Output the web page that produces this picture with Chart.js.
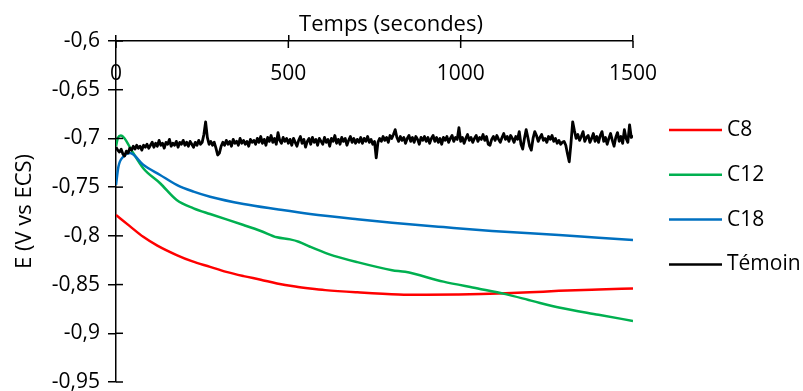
<!DOCTYPE html>
<html>
<head>
<meta charset="utf-8">
<script src="https://cdn.jsdelivr.net/npm/chart.js@4.4.1/dist/chart.umd.min.js"></script>
<style>
html,body{margin:0;padding:0;background:#fff;}
#wrap{width:803px;height:391px;}
</style>
</head>
<body>
<div id="wrap"><canvas id="c" width="803" height="391"></canvas></div>
<script>
// ---- Data ----
const seriesNames = ['C8', 'C12', 'C18', 'Témoin'];
const xAxisTitle = 'Temps (secondes)';
const yAxisTitle = 'E (V vs ECS)';
const xTickValues = [0, 500, 1000, 1500];
const yTickValues = [-0.95, -0.9, -0.85, -0.8, -0.75, -0.7, -0.65, -0.6];

const c8Time = [0, 40, 79, 120, 176, 220, 273, 320, 370, 420, 467, 520, 563, 607, 700, 820, 900, 994, 1060, 1130, 1200, 1285, 1400, 1500];
const c8E    = [-0.7786, -0.790, -0.801, -0.810, -0.8197, -0.826, -0.8318, -0.837, -0.8413, -0.845, -0.8488, -0.852, -0.854, -0.8557, -0.858, -0.8602, -0.8605, -0.8602, -0.8598, -0.859, -0.858, -0.8564, -0.855, -0.854];

const c12Time = [0, 6, 14, 25, 45, 79, 128, 176, 225, 273, 370, 420, 467, 505, 530, 563, 617, 700, 801, 839, 950, 1050, 1130, 1210, 1285, 1400, 1500];
const c12E    = [-0.708, -0.699, -0.697, -0.700, -0.712, -0.7306, -0.746, -0.7632, -0.7717, -0.7776, -0.7889, -0.795, -0.8015, -0.8036, -0.806, -0.8112, -0.8187, -0.827, -0.8352, -0.8369, -0.847, -0.854, -0.8598, -0.867, -0.8735, -0.881, -0.8873];

const c18Time = [0, 7, 21, 41, 79, 128, 176, 225, 273, 370, 467, 563, 700, 801, 950, 1091, 1285, 1400, 1500];
const c18E    = [-0.7477, -0.729, -0.7187, -0.715, -0.727, -0.7375, -0.7477, -0.7546, -0.7598, -0.7673, -0.7727, -0.7776, -0.7830, -0.7865, -0.791, -0.795, -0.7992, -0.802, -0.8043];

// Témoin sampled every 5 s from 0 to 1500 s (20 values per 100 s row)
const temoinStep = 5;
const temoinE = [
  -0.709, -0.712, -0.714, -0.711, -0.716, -0.718, -0.713, -0.715, -0.710, -0.712, -0.708, -0.711, -0.707, -0.710, -0.708, -0.712, -0.707, -0.709, -0.706, -0.710,
  -0.707, -0.704, -0.709, -0.705, -0.708, -0.702, -0.707, -0.705, -0.710, -0.704, -0.706, -0.701, -0.708, -0.705, -0.707, -0.703, -0.709, -0.704, -0.706, -0.702,
  -0.707, -0.704, -0.708, -0.703, -0.706, -0.709, -0.704, -0.707, -0.702, -0.706, -0.704, -0.696, -0.683, -0.699, -0.706, -0.703, -0.707, -0.704, -0.710, -0.717,
  -0.715, -0.708, -0.704, -0.707, -0.702, -0.706, -0.703, -0.708, -0.701, -0.705, -0.703, -0.707, -0.700, -0.705, -0.702, -0.706, -0.703, -0.708, -0.701, -0.704,
  -0.702, -0.706, -0.700, -0.704, -0.698, -0.705, -0.701, -0.707, -0.699, -0.703, -0.697, -0.704, -0.700, -0.706, -0.694, -0.702, -0.705, -0.699, -0.703, -0.700,
  -0.705, -0.701, -0.707, -0.700, -0.704, -0.708, -0.702, -0.698, -0.705, -0.701, -0.709, -0.703, -0.700, -0.706, -0.699, -0.704, -0.701, -0.707, -0.700, -0.703,
  -0.706, -0.699, -0.704, -0.701, -0.708, -0.700, -0.703, -0.697, -0.705, -0.701, -0.706, -0.699, -0.703, -0.700, -0.707, -0.702, -0.698, -0.704, -0.700, -0.705,
  -0.701, -0.704, -0.699, -0.705, -0.700, -0.703, -0.698, -0.704, -0.701, -0.706, -0.703, -0.720, -0.704, -0.700, -0.703, -0.698, -0.702, -0.699, -0.704, -0.697,
  -0.700, -0.696, -0.691, -0.699, -0.703, -0.698, -0.702, -0.699, -0.705, -0.700, -0.697, -0.703, -0.699, -0.704, -0.698, -0.701, -0.706, -0.699, -0.702, -0.698,
  -0.703, -0.699, -0.705, -0.700, -0.697, -0.703, -0.699, -0.704, -0.700, -0.706, -0.699, -0.702, -0.698, -0.704, -0.700, -0.697, -0.703, -0.699, -0.701, -0.689,
  -0.703, -0.699, -0.705, -0.700, -0.696, -0.702, -0.699, -0.704, -0.700, -0.697, -0.703, -0.699, -0.701, -0.696, -0.702, -0.698, -0.706, -0.707, -0.701, -0.698,
  -0.702, -0.697, -0.701, -0.704, -0.699, -0.695, -0.701, -0.698, -0.703, -0.697, -0.700, -0.704, -0.698, -0.701, -0.693, -0.706, -0.711, -0.700, -0.691, -0.699,
  -0.708, -0.712, -0.700, -0.693, -0.697, -0.703, -0.699, -0.696, -0.702, -0.700, -0.704, -0.698, -0.701, -0.697, -0.703, -0.700, -0.705, -0.702, -0.706, -0.704,
  -0.703, -0.707, -0.716, -0.724, -0.705, -0.683, -0.692, -0.700, -0.696, -0.702, -0.698, -0.693, -0.703, -0.699, -0.697, -0.704, -0.700, -0.695, -0.703, -0.698,
  -0.704, -0.697, -0.693, -0.703, -0.699, -0.706, -0.700, -0.695, -0.702, -0.708, -0.699, -0.694, -0.703, -0.698, -0.705, -0.691, -0.700, -0.704, -0.686, -0.699,
  -0.697
];

const colors = ['#FF0000', '#00B050', '#0070C0', '#000000'];

// ---- Build datasets ----
const toPoints = (xs, ys) => ys.map((y, i) => ({x: xs[i], y: y}));
const temoinTime = temoinE.map((_, i) => i * temoinStep);

const FONT = '"Open Sans", Lato, sans-serif';

const datasets = [
  {label: seriesNames[0], data: toPoints(c8Time, c8E), borderColor: colors[0], order: 4, cubicInterpolationMode: 'monotone'},
  {label: seriesNames[1], data: toPoints(c12Time, c12E), borderColor: colors[1], order: 3, cubicInterpolationMode: 'monotone'},
  {label: seriesNames[2], data: toPoints(c18Time, c18E), borderColor: colors[2], order: 2, cubicInterpolationMode: 'monotone'},
  {label: seriesNames[3], data: toPoints(temoinTime, temoinE), borderColor: colors[3], order: 1, tension: 0, borderWidth: 2.8, borderJoinStyle: 'round'}
].map(d => Object.assign({borderWidth: 2.5, pointRadius: 0, fill: false, backgroundColor: d.borderColor}, d));

const fmtY = v => {
  let s = (Math.round(v * 100) / 100).toFixed(2);
  s = s.replace(/0+$/, '').replace(/\.$/, '');
  return s.replace('.', ',');
};
const fmtX = v => String(Math.round(v));

// inner half of the crossing tick marks, x-axis title, custom legend
const extras = {
  id: 'extras',
  afterDraw(chart) {
    const ctx = chart.ctx;
    const xs = chart.scales.x, ys = chart.scales.y;
    const ca = chart.chartArea;
    ctx.save();
    ctx.strokeStyle = '#000';
    ctx.lineWidth = 1.5;
    ys.ticks.forEach(t => {
      const py = ys.getPixelForValue(t.value);
      ctx.beginPath(); ctx.moveTo(ca.left, py); ctx.lineTo(ca.left + 7, py); ctx.stroke();
    });
    xs.ticks.forEach(t => {
      const px = xs.getPixelForValue(t.value);
      ctx.beginPath(); ctx.moveTo(px, ca.top); ctx.lineTo(px, ca.top + 7); ctx.stroke();
    });
    // x-axis title (sits slightly right of centre in the reference)
    ctx.fillStyle = '#000';
    ctx.font = '22px ' + FONT;
    ctx.textAlign = 'center';
    ctx.textBaseline = 'alphabetic';
    ctx.fillText(xAxisTitle, 391, 31);
    // legend
    const lx0 = 669, lx1 = 722, tx = 727, y0 = 130, dy = 44.8;
    ctx.font = '21px ' + FONT;
    ctx.textBaseline = 'middle';
    ctx.textAlign = 'left';
    chart.data.datasets.forEach((d, i) => {
      const y = y0 + i * dy;
      ctx.strokeStyle = d.borderColor;
      ctx.lineWidth = 2.5;
      ctx.beginPath(); ctx.moveTo(lx0, y); ctx.lineTo(lx1, y); ctx.stroke();
      ctx.fillStyle = '#000';
      ctx.fillText(d.label, tx, y);
    });
    ctx.restore();
  }
};

new Chart(document.getElementById('c'), {
  type: 'line',
  data: {datasets},
  options: {
    responsive: false,
    animation: false,
    layout: {padding: {left: 0, right: 170, top: 0, bottom: 9}},
    plugins: {legend: {display: false}, tooltip: {enabled: false}},
    scales: {
      x: {
        type: 'linear', position: 'top', min: 0, max: 1500,
        afterBuildTicks: s => { s.ticks = xTickValues.map(v => ({value: v})); },
        ticks: {mirror: true, padding: 20, color: '#000', font: {family: FONT, size: 21}, maxRotation: 0, autoSkip: false, callback: v => fmtX(v)},
        grid: {drawOnChartArea: false, drawTicks: true, tickLength: 6, color: '#000', lineWidth: 1.5},
        border: {color: '#000', width: 1.5},
        title: {display: false},
        afterFit: s => { s.height = 41; s.paddingLeft = 0; s.paddingRight = 0; }
      },
      y: {
        type: 'linear', position: 'left', min: -0.95, max: -0.6,
        afterBuildTicks: s => { s.ticks = yTickValues.map(v => ({value: v})); },
        ticks: {padding: 8, color: '#000', font: {family: FONT, size: 21}, callback: v => fmtY(v), autoSkip: false},
        grid: {drawOnChartArea: false, drawTicks: true, tickLength: 8, color: '#000', lineWidth: 1.5},
        border: {color: '#000', width: 1.5},
        title: {display: true, text: yAxisTitle, color: '#000', font: {family: FONT, size: 22}, padding: {top: 12, bottom: 0}},
        afterFit: s => { s.width = 116; s.paddingTop = 0; s.paddingBottom = 0; }
      }
    }
  },
  plugins: [extras]
});
</script>
</body>
</html>
